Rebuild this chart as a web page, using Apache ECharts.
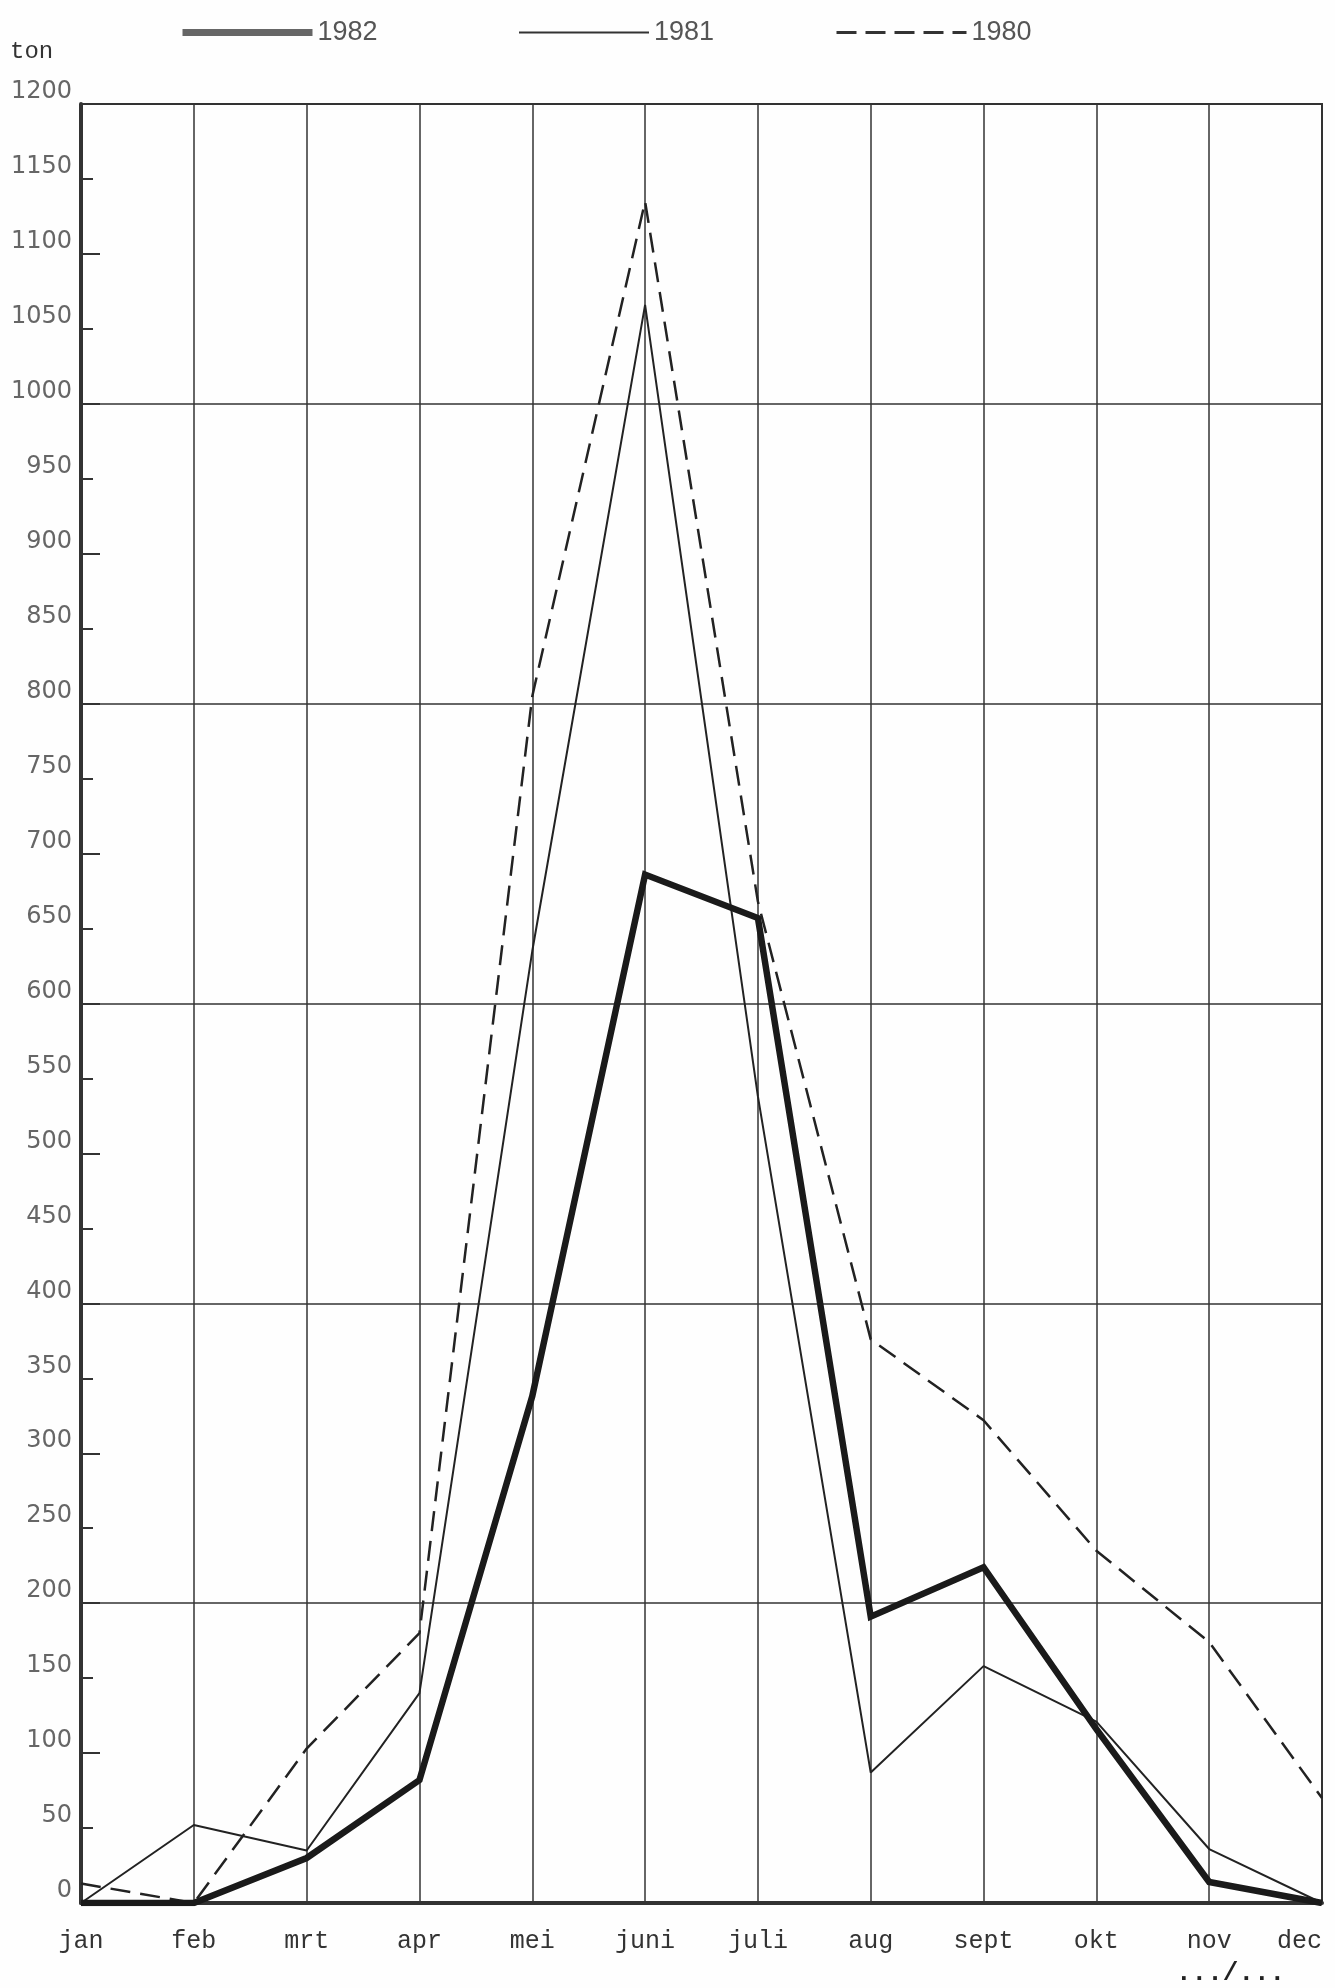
<!DOCTYPE html>
<html>
<head>
<meta charset="utf-8">
<title>ton per maand 1980-1982</title>
<script src="https://cdn.jsdelivr.net/npm/echarts@6.0.0/dist/echarts.min.js"></script>
<style>
  html, body { margin: 0; padding: 0; background: #fefefe; }
  #main { width: 1335px; height: 1988px; }
</style>
</head>
<body>
<div id="main"></div>
<script>
// maanden en tonnages per jaar
var months = ['jan', 'feb', 'mrt', 'apr', 'mei', 'juni', 'juli', 'aug', 'sept', 'okt', 'nov', 'dec'];
var v1982 = [0, 0, 30, 82, 338, 686, 657, 191, 224, 116, 14, 0];
var v1981 = [0, 52, 35, 140, 635, 1066, 538, 87, 158, 121, 36, 0];
var v1980 = [13, 0, 103, 180, 805, 1135, 668, 376, 322, 235, 174, 70];
var years = ['1982', '1981', '1980'];

var ink = '#222';
var monoFont = '"Liberation Mono", "DejaVu Sans Mono", monospace';

var myChart = echarts.init(document.getElementById('main'));

function legendFor(name, left, width, type, color) {
    return {
        left: left,
        top: 14,
        itemWidth: 130,
        itemHeight: 26,
        data: [name],
        // alleen de lijn tonen, geen bolletje
        itemStyle: { color: 'rgba(0,0,0,0)', borderWidth: 0, opacity: 0 },
        lineStyle: { width: width, type: type, color: color },
        textStyle: {
            fontFamily: '"Liberation Sans", Arial, sans-serif',
            fontSize: 27,
            color: '#555',
            padding: [0, 0, 10, 0]
        }
    };
}

var option = {
    backgroundColor: '#fefefe',
    animation: false,
    grid: {
        left: 81,
        right: 13,
        top: 104,
        bottom: 85,
        show: true,
        borderColor: '#333',
        borderWidth: 2
    },
    legend: [
        legendFor('1982', 174, 7, 'solid', '#666'),
        legendFor('1981', 513, 2, 'solid', '#333'),
        legendFor('1980', 830, 3, [20, 9], '#333')
    ],
    graphic: [
        {
            type: 'text',
            left: 10,
            top: 40,
            style: { text: 'ton', font: '24px ' + monoFont, fill: '#333' }
        },
        {
            type: 'text',
            left: 1176,
            top: 1960,
            style: { text: '.../...', font: 'bold 26px ' + monoFont, fill: '#222' }
        }
    ],
    xAxis: {
        type: 'category',
        data: months,
        boundaryGap: false,
        axisLine: { show: true, lineStyle: { color: '#333', width: 4 } },
        axisTick: { show: false },
        splitLine: { show: true, lineStyle: { color: '#333', width: 1.5 } },
        axisLabel: {
            margin: 26,
            fontFamily: monoFont,
            fontSize: 25,
            color: '#333',
            alignMaxLabel: 'right'
        }
    },
    yAxis: [
        {
            // labels om de 50 ton, korte streepjes
            type: 'value',
            min: 0,
            max: 1200,
            interval: 50,
            axisLine: { show: true, lineStyle: { color: '#333', width: 4 } },
            axisTick: { show: true, inside: true, length: 12, lineStyle: { color: '#333', width: 2 } },
            splitLine: { show: false },
            axisLabel: {
                margin: 9,
                fontFamily: '"DejaVu Sans", sans-serif',
                fontSize: 24,
                color: '#666',
                verticalAlign: 'bottom',
                formatter: function (v) { return String(v); }
            }
        },
        {
            // langere streepjes om de 100 ton
            type: 'value',
            position: 'left',
            min: 0,
            max: 1200,
            interval: 100,
            axisLine: { show: false },
            axisTick: { show: true, inside: true, length: 19, lineStyle: { color: '#333', width: 2 } },
            axisLabel: { show: false },
            splitLine: { show: false }
        },
        {
            // rasterlijnen om de 200 ton
            type: 'value',
            position: 'left',
            min: 0,
            max: 1200,
            interval: 200,
            axisLine: { show: false },
            axisTick: { show: false },
            axisLabel: { show: false },
            splitLine: { show: true, lineStyle: { color: '#333', width: 1.5 } }
        }
    ],
    series: [
        {
            name: years[0],
            type: 'line',
            data: v1982,
            symbol: 'none',
            lineStyle: { color: '#1a1a1a', width: 6.5, join: 'miter' },
            itemStyle: { color: '#1a1a1a' },
            z: 5
        },
        {
            name: years[1],
            type: 'line',
            data: v1981,
            symbol: 'none',
            lineStyle: { color: ink, width: 2 },
            itemStyle: { color: ink },
            z: 4
        },
        {
            name: years[2],
            type: 'line',
            data: v1980,
            symbol: 'none',
            lineStyle: { color: ink, width: 2.5, type: [20, 10] },
            itemStyle: { color: ink },
            z: 3
        }
    ]
};
myChart.setOption(option);
</script>
</body>
</html>
